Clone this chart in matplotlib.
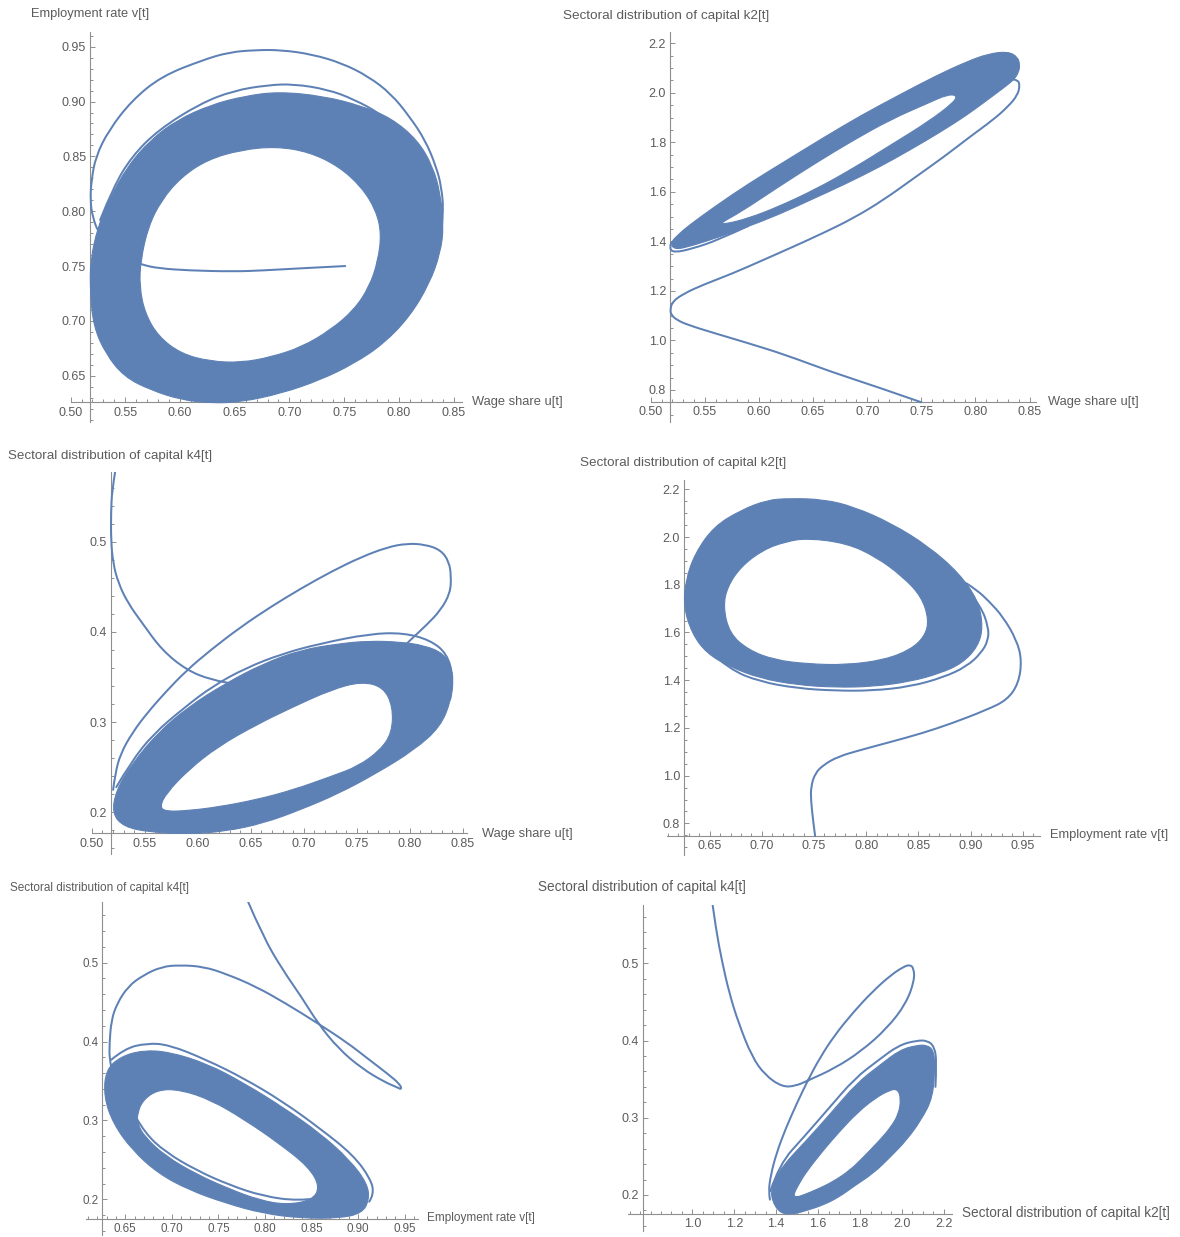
import numpy as np
import matplotlib
matplotlib.use("Agg")
import matplotlib.pyplot as plt
from matplotlib.path import Path
from matplotlib.patches import PathPatch
from matplotlib.ticker import FixedLocator, MultipleLocator, FormatStrFormatter

plt.rcParams["font.family"] = ["Liberation Sans", "DejaVu Sans"]

LINE = "#5e81b5"
AXIS = "#8f8f8f"
TEXT = "#5c5c5c"
W, H = 1180, 1237

# ---------------------------------------------------------------- trajectories
# wage share u vs employment rate v
UV_BAND_OUTER = [(0.690, 0.909), (0.731, 0.905), (0.766, 0.896), (0.793, 0.885), (0.817, 0.865),
                 (0.831, 0.841), (0.838, 0.816), (0.841, 0.786), (0.838, 0.762), (0.828, 0.734),
                 (0.810, 0.704), (0.786, 0.679), (0.759, 0.661), (0.728, 0.646), (0.693, 0.634),
                 (0.656, 0.626), (0.628, 0.625), (0.601, 0.628), (0.573, 0.637), (0.549, 0.649),
                 (0.532, 0.670), (0.521, 0.695), (0.518, 0.725), (0.518, 0.755), (0.525, 0.786),
                 (0.535, 0.810), (0.552, 0.841), (0.573, 0.865), (0.597, 0.883), (0.628, 0.897),
                 (0.659, 0.905)]
UV_BAND_INNER = [(0.688, 0.859), (0.718, 0.854), (0.745, 0.841), (0.766, 0.822), (0.779, 0.801),
                 (0.784, 0.780), (0.781, 0.755), (0.773, 0.731), (0.759, 0.710), (0.738, 0.692),
                 (0.711, 0.676), (0.683, 0.667), (0.656, 0.662), (0.628, 0.663), (0.601, 0.670),
                 (0.580, 0.686), (0.568, 0.707), (0.563, 0.731), (0.564, 0.755), (0.571, 0.786),
                 (0.583, 0.810), (0.601, 0.831), (0.625, 0.847), (0.656, 0.856)]
UV_START = [(0.751, 0.750), (0.711, 0.748), (0.676, 0.746), (0.649, 0.745), (0.607, 0.746),
            (0.580, 0.748), (0.566, 0.751), (0.556, 0.755), (0.540, 0.766), (0.526, 0.779),
            (0.520, 0.795), (0.518, 0.810), (0.519, 0.828), (0.523, 0.850), (0.535, 0.874),
            (0.556, 0.901), (0.583, 0.923), (0.621, 0.938), (0.645, 0.945), (0.669, 0.947),
            (0.693, 0.947), (0.721, 0.943), (0.748, 0.935), (0.772, 0.923), (0.793, 0.907),
            (0.810, 0.886), (0.824, 0.865), (0.834, 0.841), (0.839, 0.822), (0.841, 0.798),
            (0.838, 0.774)]
UV_SECOND = [(0.527, 0.792), (0.539, 0.822), (0.556, 0.850), (0.580, 0.874), (0.618, 0.898),
             (0.649, 0.910), (0.680, 0.915), (0.704, 0.916), (0.735, 0.911), (0.759, 0.902),
             (0.783, 0.889), (0.804, 0.871), (0.821, 0.850), (0.832, 0.825)]

# wage share u vs sectoral capital k2
UK2_BAND_OUTER = [(0.518, 1.395), (0.527, 1.433), (0.534, 1.460), (0.559, 1.540), (0.590, 1.632),
                  (0.625, 1.726), (0.660, 1.820), (0.694, 1.908), (0.729, 1.990), (0.764, 2.070),
                  (0.792, 2.126), (0.812, 2.158), (0.830, 2.167), (0.839, 2.145), (0.841, 2.113),
                  (0.840, 2.085), (0.836, 2.055), (0.826, 2.020), (0.809, 1.965), (0.792, 1.910),
                  (0.767, 1.840), (0.739, 1.768), (0.712, 1.702), (0.680, 1.632), (0.649, 1.570),
                  (0.618, 1.508), (0.590, 1.460), (0.562, 1.416), (0.538, 1.382), (0.522, 1.366)]
UK2_BAND_INNER = [(0.564, 1.473), (0.583, 1.518), (0.618, 1.620), (0.653, 1.718), (0.687, 1.808),
                  (0.722, 1.893), (0.757, 1.960), (0.774, 1.993), (0.783, 1.990), (0.780, 1.962),
                  (0.757, 1.885), (0.722, 1.790), (0.687, 1.695), (0.653, 1.612), (0.618, 1.540),
                  (0.590, 1.493), (0.569, 1.470)]
UK2_START = [(0.750, 0.750), (0.708, 0.814), (0.666, 0.874), (0.625, 0.941), (0.590, 0.989),
             (0.559, 1.029), (0.534, 1.063), (0.524, 1.083), (0.519, 1.103), (0.518, 1.123),
             (0.520, 1.157), (0.531, 1.190), (0.548, 1.224), (0.576, 1.271), (0.604, 1.325),
             (0.632, 1.379), (0.659, 1.433), (0.687, 1.493), (0.715, 1.567), (0.743, 1.655),
             (0.771, 1.742), (0.795, 1.823), (0.816, 1.890), (0.830, 1.944), (0.839, 1.991),
             (0.841, 2.032), (0.839, 2.052), (0.832, 2.055), (0.825, 2.038)]
UK2_SECOND = [(0.590, 1.462), (0.562, 1.405), (0.538, 1.370), (0.522, 1.355), (0.517, 1.370),
              (0.519, 1.395)]

# wage share u vs sectoral capital k4
UK4_BAND_OUTER = [(0.519, 0.199), (0.530, 0.184), (0.555, 0.178), (0.591, 0.176), (0.626, 0.179),
                  (0.662, 0.188), (0.697, 0.203), (0.733, 0.221), (0.768, 0.243), (0.804, 0.269),
                  (0.829, 0.295), (0.839, 0.325), (0.841, 0.347), (0.839, 0.361), (0.832, 0.376),
                  (0.814, 0.385), (0.790, 0.389), (0.761, 0.390), (0.733, 0.387), (0.697, 0.380),
                  (0.662, 0.365), (0.626, 0.343), (0.591, 0.317), (0.562, 0.288), (0.538, 0.254),
                  (0.523, 0.225)]
UK4_BAND_INNER = [(0.564, 0.206), (0.570, 0.221), (0.591, 0.247), (0.619, 0.273), (0.655, 0.297),
                  (0.690, 0.317), (0.726, 0.336), (0.754, 0.345), (0.775, 0.339), (0.784, 0.317),
                  (0.783, 0.288), (0.772, 0.269), (0.751, 0.251), (0.726, 0.240), (0.690, 0.225),
                  (0.655, 0.214), (0.619, 0.206), (0.591, 0.202), (0.570, 0.201)]
UK4_START = [(0.522, 0.578), (0.519, 0.557), (0.518, 0.531), (0.518, 0.502), (0.520, 0.476),
             (0.525, 0.454), (0.534, 0.432), (0.548, 0.409), (0.566, 0.380), (0.589, 0.358),
             (0.612, 0.347), (0.641, 0.341), (0.655, 0.340)]
UK4_LOOP = [(0.520, 0.225), (0.522, 0.243), (0.527, 0.265), (0.538, 0.288), (0.552, 0.310),
            (0.570, 0.334), (0.589, 0.357), (0.612, 0.380), (0.641, 0.406), (0.669, 0.428),
            (0.697, 0.448), (0.726, 0.467), (0.754, 0.483), (0.779, 0.494), (0.797, 0.498),
            (0.814, 0.497), (0.829, 0.491), (0.837, 0.478), (0.839, 0.461), (0.838, 0.443),
            (0.829, 0.424), (0.816, 0.408), (0.804, 0.395), (0.797, 0.387)]
UK4_SECOND = [(0.523, 0.228), (0.537, 0.256), (0.558, 0.287), (0.587, 0.316), (0.614, 0.340),
              (0.645, 0.360), (0.680, 0.376), (0.715, 0.387), (0.762, 0.398), (0.794, 0.399),
              (0.819, 0.391), (0.835, 0.376), (0.841, 0.350), (0.838, 0.325)]

# employment rate v vs sectoral capital k2
VK2_BAND_OUTER = [(0.726, 2.162), (0.759, 2.158), (0.788, 2.127), (0.824, 2.058), (0.860, 1.960),
                  (0.889, 1.848), (0.907, 1.736), (0.912, 1.624), (0.907, 1.541), (0.892, 1.471),
                  (0.871, 1.429), (0.842, 1.394), (0.806, 1.373), (0.770, 1.370), (0.734, 1.380),
                  (0.698, 1.408), (0.669, 1.457), (0.647, 1.513), (0.633, 1.596), (0.625, 1.708),
                  (0.627, 1.820), (0.636, 1.932), (0.654, 2.044), (0.680, 2.113), (0.705, 2.155)]
VK2_BAND_INNER = [(0.744, 1.995), (0.781, 1.974), (0.809, 1.918), (0.835, 1.834), (0.853, 1.750),
                  (0.860, 1.652), (0.856, 1.583), (0.842, 1.527), (0.817, 1.485), (0.781, 1.464),
                  (0.744, 1.468), (0.712, 1.485), (0.687, 1.527), (0.669, 1.596), (0.663, 1.708),
                  (0.667, 1.792), (0.680, 1.876), (0.701, 1.946), (0.723, 1.981)]
VK2_START = [(0.751, 0.747), (0.749, 0.814), (0.747, 0.898), (0.747, 0.954), (0.751, 1.010),
             (0.759, 1.045), (0.773, 1.080), (0.795, 1.108), (0.824, 1.142), (0.853, 1.177),
             (0.882, 1.219), (0.915, 1.275), (0.935, 1.317), (0.946, 1.387), (0.949, 1.485),
             (0.944, 1.569), (0.931, 1.666), (0.918, 1.729), (0.906, 1.778), (0.896, 1.806)]
VK2_SECOND = [(0.898, 1.778), (0.910, 1.708), (0.917, 1.624), (0.917, 1.568), (0.910, 1.513),
              (0.896, 1.457), (0.874, 1.412), (0.842, 1.373), (0.806, 1.356), (0.770, 1.356),
              (0.734, 1.366), (0.698, 1.394), (0.669, 1.445), (0.650, 1.520)]

# employment rate v vs sectoral capital k4
VK4_BAND_OUTER = [(0.629, 0.364), (0.645, 0.381), (0.669, 0.389), (0.697, 0.387), (0.738, 0.372),
                  (0.778, 0.347), (0.819, 0.317), (0.859, 0.284), (0.891, 0.250), (0.910, 0.220),
                  (0.912, 0.199), (0.904, 0.182), (0.879, 0.176), (0.839, 0.176), (0.798, 0.182),
                  (0.758, 0.195), (0.718, 0.212), (0.685, 0.233), (0.657, 0.263), (0.637, 0.296),
                  (0.627, 0.330)]
VK4_BAND_INNER = [(0.663, 0.309), (0.669, 0.326), (0.685, 0.339), (0.709, 0.339), (0.742, 0.326),
                  (0.778, 0.301), (0.815, 0.271), (0.847, 0.241), (0.859, 0.216), (0.851, 0.199),
                  (0.823, 0.193), (0.794, 0.199), (0.762, 0.213), (0.726, 0.232), (0.693, 0.255),
                  (0.671, 0.279), (0.663, 0.296)]
VK4_INNER_PASS = [(0.662, 0.303), (0.671, 0.284), (0.693, 0.260), (0.726, 0.237), (0.762, 0.218),
                  (0.798, 0.204), (0.835, 0.198), (0.855, 0.201)]
VK4_START = [(0.782, 0.577), (0.798, 0.533), (0.819, 0.491), (0.839, 0.457), (0.857, 0.423),
             (0.879, 0.391), (0.904, 0.366), (0.928, 0.349), (0.942, 0.342), (0.947, 0.339),
             (0.945, 0.346), (0.932, 0.359), (0.912, 0.377), (0.888, 0.399), (0.857, 0.423),
             (0.823, 0.448), (0.790, 0.470), (0.758, 0.486), (0.734, 0.495), (0.709, 0.497),
             (0.689, 0.495), (0.669, 0.484), (0.653, 0.470), (0.641, 0.448), (0.635, 0.427),
             (0.633, 0.398), (0.633, 0.377), (0.635, 0.368)]
VK4_SECOND = [(0.635, 0.377), (0.649, 0.391), (0.673, 0.398), (0.697, 0.396), (0.737, 0.377),
              (0.778, 0.353), (0.819, 0.324), (0.859, 0.290), (0.895, 0.256), (0.914, 0.225),
              (0.917, 0.206), (0.912, 0.197)]

# sectoral capital k2 vs sectoral capital k4
KK_BAND_OUTER = [(1.418, 0.176), (1.377, 0.194), (1.379, 0.211), (1.427, 0.237), (1.546, 0.271),
                 (1.661, 0.306), (1.785, 0.345), (1.894, 0.368), (1.991, 0.388), (2.074, 0.394),
                 (2.119, 0.394), (2.149, 0.388), (2.158, 0.371), (2.149, 0.327), (2.092, 0.297),
                 (2.022, 0.271), (1.948, 0.250), (1.864, 0.228), (1.769, 0.211), (1.704, 0.198),
                 (1.625, 0.187), (1.546, 0.180), (1.481, 0.175)]
KK_BAND_INNER = [(1.481, 0.200), (1.510, 0.215), (1.544, 0.230), (1.625, 0.258), (1.705, 0.283),
                 (1.785, 0.306), (1.870, 0.325), (1.943, 0.336), (1.980, 0.337), (1.995, 0.325),
                 (1.985, 0.305), (1.945, 0.287), (1.894, 0.271), (1.820, 0.250), (1.752, 0.232),
                 (1.670, 0.217), (1.593, 0.207), (1.530, 0.200), (1.495, 0.197)]
KK_START = [(1.095, 0.578), (1.113, 0.543), (1.140, 0.504), (1.176, 0.461), (1.221, 0.422),
            (1.284, 0.379), (1.347, 0.355), (1.428, 0.340), (1.491, 0.341), (1.550, 0.348),
            (1.679, 0.364), (1.805, 0.386), (1.930, 0.416), (2.020, 0.448), (2.060, 0.478),
            (2.056, 0.494), (2.038, 0.498), (2.011, 0.496), (1.948, 0.485), (1.858, 0.463),
            (1.769, 0.437), (1.679, 0.407), (1.607, 0.377), (1.550, 0.348), (1.499, 0.319),
            (1.445, 0.286), (1.401, 0.254), (1.374, 0.226), (1.363, 0.204), (1.370, 0.194)]
KK_SECOND = [(1.372, 0.205), (1.415, 0.240), (1.535, 0.276), (1.650, 0.312), (1.775, 0.351),
             (1.885, 0.374), (1.985, 0.394), (2.070, 0.400), (2.122, 0.400), (2.155, 0.392),
             (2.166, 0.372), (2.160, 0.340)]

# ---------------------------------------------------------------- ticks
U_TICKS = [0.50, 0.55, 0.60, 0.65, 0.70, 0.75, 0.80, 0.85]
V_TICKS = [0.65, 0.70, 0.75, 0.80, 0.85, 0.90, 0.95]
K2_TICKS = [0.8, 1.0, 1.2, 1.4, 1.6, 1.8, 2.0, 2.2]
K2_XTICKS = [1.0, 1.2, 1.4, 1.6, 1.8, 2.0, 2.2]
K4_TICKS = [0.2, 0.3, 0.4, 0.5]

U_LABEL = "Wage share u[t]"
V_LABEL = "Employment rate v[t]"
K2_LABEL = "Sectoral distribution of capital k2[t]"
K4_LABEL = "Sectoral distribution of capital k4[t]"


def smooth(pts, closed):
    """Quadratic-bezier path through the midpoints of the listed vertices."""
    p = np.asarray(pts, float)
    n = len(p)
    if closed:
        mids = (p + np.roll(p, -1, axis=0)) / 2
        verts, codes = [mids[-1]], [Path.MOVETO]
        for i in range(n):
            verts += [p[i], mids[i]]
            codes += [Path.CURVE3, Path.CURVE3]
        verts.append(mids[-1])
        codes.append(Path.CLOSEPOLY)
        return verts, codes
    verts, codes = [p[0]], [Path.MOVETO]
    for i in range(1, n - 1):
        end = (p[i] + p[i + 1]) / 2 if i < n - 2 else p[-1]
        verts += [p[i], end]
        codes += [Path.CURVE3, Path.CURVE3]
    if n == 2:
        verts.append(p[1])
        codes.append(Path.LINETO)
    return verts, codes


def area(pts):
    p = np.asarray(pts, float)
    return 0.5 * np.sum(p[:, 0] * np.roll(p[:, 1], -1) - np.roll(p[:, 0], -1) * p[:, 1])


def band(ax, outer, inner):
    if np.sign(area(outer)) == np.sign(area(inner)):
        inner = inner[::-1]
    vo, co = smooth(outer, True)
    vi, ci = smooth(inner, True)
    ax.add_patch(PathPatch(Path(vo + vi, co + ci), facecolor=LINE, edgecolor=LINE,
                           lw=0.8, zorder=2))


def curve(ax, pts):
    v, c = smooth(pts, False)
    ax.add_patch(PathPatch(Path(v, c), facecolor="none", edgecolor=LINE, lw=1.45,
                           capstyle="round", joinstyle="round", zorder=3))


fig = plt.figure(figsize=(W / 100, H / 100), dpi=100)


def panel(xlim, ylim, xpx, ypx, origin, xticks, yticks, xminor, yminor, xfmt, yfmt, fs=9):
    (l, r), (t, b) = xpx, ypx
    ax = fig.add_axes([l / W, 1 - b / H, (r - l) / W, (b - t) / H])
    ax.set_xlim(*xlim)
    ax.set_ylim(*ylim)
    ax.patch.set_visible(False)
    for s in ("top", "right"):
        ax.spines[s].set_visible(False)
    ax.spines["left"].set_position(("data", origin[0]))
    ax.spines["bottom"].set_position(("data", origin[1]))
    for s in ("left", "bottom"):
        ax.spines[s].set_color(AXIS)
        ax.spines[s].set_linewidth(0.8)
        ax.spines[s].set_zorder(1)
    ax.xaxis.set_major_locator(FixedLocator(xticks))
    ax.yaxis.set_major_locator(FixedLocator(yticks))
    ax.xaxis.set_minor_locator(MultipleLocator(xminor))
    ax.yaxis.set_minor_locator(MultipleLocator(yminor))
    ax.xaxis.set_major_formatter(FormatStrFormatter(xfmt))
    ax.yaxis.set_major_formatter(FormatStrFormatter(yfmt))
    ax.tick_params(which="both", direction="in", color=AXIS, width=0.7,
                   labelcolor=TEXT, labelsize=fs, pad=3)
    ax.tick_params(which="major", length=3.6)
    ax.tick_params(which="minor", length=2.0)
    return ax


def label(x, y, s, fs=9.3):
    fig.text(x / W, 1 - y / H, s, ha="left", va="center", fontsize=fs, color=TEXT)


# u, v
ax = panel((0.50, 0.858), (0.6077, 0.9637), (70.6, 462.3), (31.7, 422.1), (0.518, 0.6257),
           U_TICKS, V_TICKS, 0.01, 0.01, "%.2f", "%.2f")
band(ax, UV_BAND_OUTER, UV_BAND_INNER)
curve(ax, UV_START)
curve(ax, UV_SECOND)
label(31, 14, V_LABEL)
label(472, 402, U_LABEL)

# u, k2
ax = panel((0.50, 0.856), (0.672, 2.247), (650.7, 1036.1), (31.7, 421.6), (0.518, 0.750),
           U_TICKS, K2_TICKS, 0.01, 0.05, "%.2f", "%.1f")
band(ax, UK2_BAND_OUTER, UK2_BAND_INNER)
curve(ax, UK2_START)
curve(ax, UK2_SECOND)
label(563, 16, K2_LABEL, fs=9.7)
label(1048, 402, U_LABEL)

# u, k4
ax = panel((0.50, 0.854), (0.154, 0.5776), (91.9, 467.1), (471.7, 853.9), (0.518, 0.1767),
           U_TICKS, K4_TICKS, 0.01, 0.02, "%.2f", "%.1f")
band(ax, UK4_BAND_OUTER, UK4_BAND_INNER)
curve(ax, UK4_START)
curve(ax, UK4_LOOP)
curve(ax, UK4_SECOND)
label(8, 456, K4_LABEL, fs=9.6)
label(482, 834, U_LABEL)

# v, k2
ax = panel((0.609, 0.966), (0.667, 2.239), (666.9, 1039.5), (480.0, 855.1), (0.6255, 0.747),
           V_TICKS, K2_TICKS, 0.01, 0.05, "%.2f", "%.1f")
band(ax, VK2_BAND_OUTER, VK2_BAND_INNER)
curve(ax, VK2_START)
curve(ax, VK2_SECOND)
label(580, 463, K2_LABEL, fs=9.7)
label(1050, 835, V_LABEL)

# v, k4
ax = panel((0.608, 0.9644), (0.155, 0.577), (86.2, 418.0), (902.0, 1234.8), (0.6254, 0.175),
           V_TICKS, K4_TICKS, 0.01, 0.02, "%.2f", "%.1f", fs=8.4)
band(ax, VK4_BAND_OUTER, VK4_BAND_INNER)
curve(ax, VK4_INNER_PASS)
curve(ax, VK4_START)
curve(ax, VK4_SECOND)
label(10, 888, K4_LABEL, fs=8.5)
label(427, 1218, V_LABEL, fs=8.5)

# k2, k4
ax = panel((0.69, 2.24), (0.154, 0.5756), (627.5, 952.2), (904.9, 1230.5), (0.763, 0.175),
           K2_XTICKS, K4_TICKS, 0.05, 0.02, "%.1f", "%.1f")
band(ax, KK_BAND_OUTER, KK_BAND_INNER)
curve(ax, KK_START)
curve(ax, KK_SECOND)
label(538, 887, K4_LABEL, fs=9.8)
label(962, 1213, K2_LABEL, fs=9.8)

fig.savefig("out.png", dpi=100)
